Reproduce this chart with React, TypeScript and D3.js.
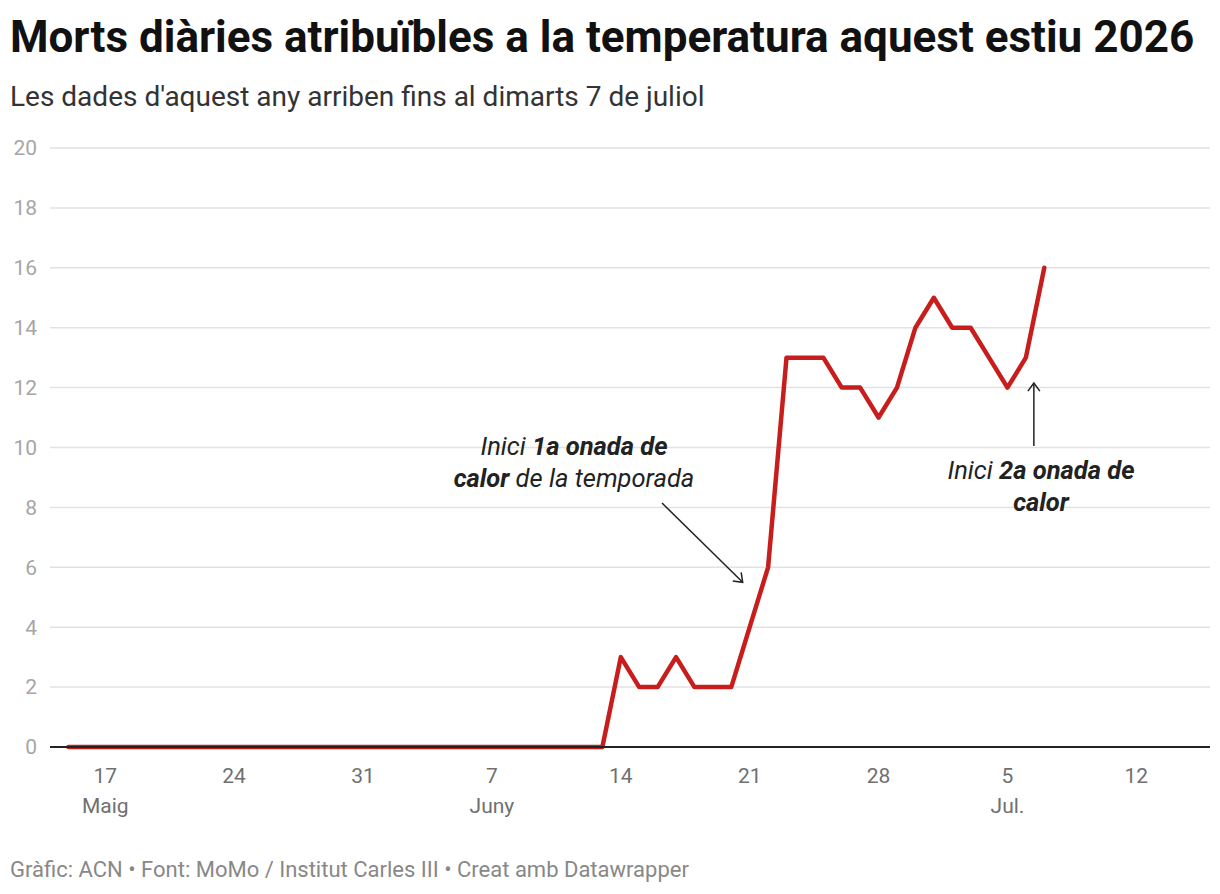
import React from 'react';
import * as d3 from 'd3';

const startDate = '2026-05-15';
// daily deaths from 15 May to 7 July
const deaths = [
  0, 0, 0, 0, 0, 0, 0, 0, 0, 0, 0, 0, 0, 0, 0, 0, 0, // 15-31 May
  0, 0, 0, 0, 0, 0, 0, 0, 0, 0, 0, 0, 0, // 1-13 June
  3, 2, 2, 3, 2, 2, 2, 4, 6, 13, 13, 13, 12, 12, 11, 12, 14, // 14-30 June
  15, 14, 14, 13, 12, 13, 16, // 1-7 July
];
const yTicks = [0, 2, 4, 6, 8, 10, 12, 14, 16, 18, 20];
const xTicks = ['2026-05-17', '2026-05-24', '2026-05-31', '2026-06-07', '2026-06-14', '2026-06-21', '2026-06-28', '2026-07-05', '2026-07-12'];
const monthLabels: Record<string, string> = {'2026-05-17': 'Maig', '2026-06-07': 'Juny', '2026-07-05': 'Jul.'};

const W = 1220;
const H = 894;
const font = 'Roboto, sans-serif';

export default function App() {
  const parse = d3.utcParse('%Y-%m-%d');
  const start = parse(startDate)!;
  const data = deaths.map((v, i) => ({date: d3.utcDay.offset(start, i), v}));

  const x = d3
    .scaleUtc()
    .domain([parse('2026-05-14')!, parse('2026-07-16')!])
    .range([50, 1210]);
  const y = d3.scaleLinear().domain([0, 20]).range([747, 148]);

  const line = d3
    .line<{date: Date; v: number}>()
    .x(d => x(d.date))
    .y(d => y(d.v));

  // annotation arrow tips, placed with the scales
  const a1x = x(parse('2026-06-21')!) - 7;
  const a1y = y(5.5);
  const a2x = x(parse('2026-07-06')!) + 8;
  const a2y = y(12.15);

  return (
    <svg width={W} height={H} style={{position: 'absolute', left: 0, top: 0, background: '#fff'}} fontFamily={font}>
      <defs>
        <marker id="arr" markerUnits="userSpaceOnUse" markerWidth="16" markerHeight="16" viewBox="0 0 16 16" refX="14" refY="8" orient="auto">
          <path d="M6,2 L14,8 L6,14" fill="none" stroke="#222" strokeWidth="1.5" />
        </marker>
      </defs>
      <text x={10} y={52} fontSize={44} fontWeight={700} fill="#111">
        Morts diàries atribuïbles a la temperatura aquest estiu 2026
      </text>
      <text x={10} y={106} fontSize={28} fill="#333">
        Les dades d'aquest any arriben fins al dimarts 7 de juliol
      </text>

      {yTicks.map(t => (
        <g key={t}>
          {t > 0 && <line x1={50} x2={1210} y1={y(t)} y2={y(t)} stroke="#e2e2e2" strokeWidth={1.5} />}
          <text x={37} y={y(t)} dy="0.35em" textAnchor="end" fontSize={21} fill="#a6a6a6">
            {t}
          </text>
        </g>
      ))}

      {xTicks.map(t => {
        const d = parse(t)!;
        return (
          <g key={t}>
            <text x={x(d)} y={783} textAnchor="middle" fontSize={21} fill="#707070">
              {d3.utcFormat('%-d')(d)}
            </text>
            {monthLabels[t] && (
              <text x={x(d)} y={813} textAnchor="middle" fontSize={21} fill="#707070">
                {monthLabels[t]}
              </text>
            )}
          </g>
        );
      })}

      <path d={line(data)!} fill="none" stroke="#c71e1d" strokeWidth={4.5} strokeLinejoin="round" strokeLinecap="round" />
      <line x1={50} x2={1210} y1={y(0)} y2={y(0)} stroke="#222" strokeWidth={2} />

      <g fontSize={25.5} fontStyle="italic" fill="#222" textAnchor="middle">
        <text x={574} y={455}>
          Inici <tspan fontWeight={700}>1a onada de</tspan>
        </text>
        <text x={574} y={487}>
          <tspan fontWeight={700}>calor</tspan> de la temporada
        </text>
        <text x={1041} y={479}>
          Inici <tspan fontWeight={700}>2a onada de</tspan>
        </text>
        <text x={1041} y={511} fontWeight={700}>
          calor
        </text>
      </g>
      <line x1={662} y1={503} x2={a1x} y2={a1y} stroke="#222" strokeWidth={1.5} markerEnd="url(#arr)" />
      <line x1={a2x} y1={446} x2={a2x} y2={a2y} stroke="#222" strokeWidth={1.5} markerEnd="url(#arr)" />

      <text x={10} y={877} fontSize={22} fill="#888">
        Gràfic: ACN • Font: MoMo / Institut Carles III • Creat amb Datawrapper
      </text>
    </svg>
  );
}
